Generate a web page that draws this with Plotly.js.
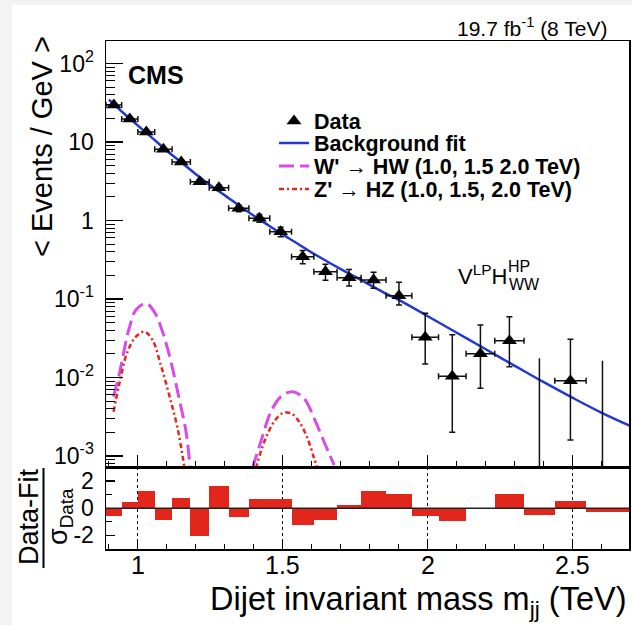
<!DOCTYPE html>
<html><head><meta charset="utf-8">
<script src="https://cdn.plot.ly/plotly-3.0.1.min.js"></script>
<style>html,body{margin:0;padding:0;background:#fff}#chart{width:632px;height:625px}</style>
</head><body><div id="chart"></div>
<script>
// ---------------- data ----------------
const binEdges = [0.890,0.944,1.000,1.058,1.118,1.181,1.246,1.313,1.383,1.455,1.530,1.607,1.687,1.770,1.856,1.945,2.037,2.132,2.231,2.332,2.438,2.546,2.659,2.775];
const dataValue   = [29.6,19.6,13.4,8.07,5.56,3.12,2.62,1.43,1.07,0.72,0.346,0.223,0.187,0.175,0.110,0.0325,0.0104,0.0200,0.0294,null,0.0091,null,null];
const dataErrUp   = [0.75,0.60,0.48,0.37,0.30,0.22,0.20,0.14,0.12,0.10,0.068,0.055,0.050,0.045,0.053,0.0333,0.0246,0.0267,0.0300,null,0.0216,null,null];
const dataErrDown = [0.75,0.60,0.48,0.37,0.30,0.22,0.20,0.14,0.12,0.10,0.065,0.050,0.040,0.038,0.026,0.0176,0.0084,0.0127,0.0157,null,0.0075,null,null];
const emptyBinUpper = [null,null,null,null,null,null,null,null,null,null,null,null,null,null,null,null,null,null,null,0.0176,null,0.0164,null];
const pullValue = [-0.55,0.45,1.24,-0.85,0.77,-2.04,1.62,-0.67,0.67,0.67,-1.22,-0.90,0.25,1.28,1.05,-0.57,-0.94,0.0,1.04,-0.52,0.54,-0.25,-0.25];

const fitMass  = [0.90,0.95,1.00,1.05,1.10,1.15,1.20,1.25,1.30,1.35,1.40,1.45,1.50,1.55,1.60,1.65,1.70,1.75,1.80,1.85,1.90,2.00,2.10,2.20,2.30,2.40,2.50,2.60,2.70];
const fitValue = [34.7,23.4,16.2,11.2,7.76,5.50,3.89,2.82,2.09,1.55,1.15,0.87,0.66,0.51,0.39,0.305,0.240,0.191,0.151,0.120,0.0977,0.0603,0.0372,0.0229,0.0141,0.00871,0.00550,0.00355,0.00240];

const wprimeMass  = [0.916,0.935,0.970,0.993,1.028,1.056,1.085,1.114,1.142,1.166,1.180, null, 1.395,1.424,1.459,1.493,1.533,1.573,1.608,1.642,1.677];
const wprimeValue = [0.00569,0.01076,0.0424,0.0724,0.0881,0.0692,0.0383,0.0159,0.00543,0.00204,0.000708, null, 0.000697,0.00152,0.00366,0.00569,0.00659,0.00543,0.00302,0.00152,0.000767];
const zprimeMass  = [0.916,0.935,0.964,0.993,1.022,1.050,1.079,1.108,1.137,1.160, null, 1.407,1.436,1.470,1.499,1.528,1.556,1.585,1.608,1.619];
const zprimeValue = [0.00366,0.00802,0.0213,0.0331,0.0383,0.0302,0.01445,0.00598,0.00225,0.000731, null, 0.000697,0.00152,0.00274,0.00350,0.00350,0.00274,0.00168,0.000933,0.000697];

const xTickVals = [1, 1.5, 2, 2.5];
const xTickText = ['1', '1.5', '2', '2.5'];
const yTickVals = [0.001, 0.01, 0.1, 1, 10, 100];
const yTickText = ['10<sup>-3</sup>', '10<sup>-2</sup>', '10<sup>-1</sup>', '1', '10', '10<sup>2</sup>'];
const pullTickVals = [-2, 0, 2];
const pullTickText = ['-2', '0', '2'];

// ---------------- derived ----------------
const nBins = binEdges.length - 1;
const centers = [], halfW = [], widths = [];
for (let i = 0; i < nBins; i++) {
  centers.push((binEdges[i] + binEdges[i+1]) / 2);
  halfW.push((binEdges[i+1] - binEdges[i]) / 2);
  widths.push(binEdges[i+1] - binEdges[i]);
}
const dX = [], dY = [], dUp = [], dDn = [], dHW = [];
for (let i = 0; i < nBins; i++) {
  if (dataValue[i] !== null) { dX.push(centers[i]); dY.push(dataValue[i]); dUp.push(dataErrUp[i]); dDn.push(dataErrDown[i]); dHW.push(halfW[i]); }
}
const LOG_FLOOR = 1e-6;
const eX = [], eY = [];
for (let i = 0; i < nBins; i++) {
  if (emptyBinUpper[i] !== null) { eX.push(centers[i], centers[i], null); eY.push(emptyBinUpper[i], LOG_FLOOR, null); }
}

// minor log ticks
const minorLog = [];
for (let k = -4; k <= 2; k++) for (let m = 2; m <= 9; m++) minorLog.push(m * Math.pow(10, k));

// ---------------- geometry helpers ----------------
const L = 106, R = 629, T = 41, B = 549, SPLIT = 467.3;
const px = x => (x - L) / (R - L);
const py = y => (B - y) / (B - T);
const FONT = 'Liberation Sans, Arial, Helvetica, sans-serif';

const traces = [
  { x: wprimeMass, y: wprimeValue, mode: 'lines', name: "<b>W' \u2192 HW (1.0, 1.5 2.0 TeV)</b>", legend: 'legend3',
    line: { color: '#d94ce8', width: 3, dash: '15px,6px', shape: 'spline' }, connectgaps: false, xaxis: 'x', yaxis: 'y', hoverinfo: 'skip' },
  { x: zprimeMass, y: zprimeValue, mode: 'lines', name: "<b>Z' \u2192 HZ (1.0, 1.5, 2.0 TeV)</b>", legend: 'legend4',
    line: { color: '#e3261c', width: 2.5, dash: '5px,3px,2px,3px', shape: 'spline' }, connectgaps: false, xaxis: 'x', yaxis: 'y', hoverinfo: 'skip' },
  { x: fitMass, y: fitValue, mode: 'lines', name: '<b>Background fit</b>', legend: 'legend2',
    line: { color: '#2238d0', width: 2.5, shape: 'spline' }, xaxis: 'x', yaxis: 'y', hoverinfo: 'skip' },
  { x: eX, y: eY, mode: 'lines', showlegend: false, line: { color: '#111', width: 1.5 }, xaxis: 'x', yaxis: 'y', hoverinfo: 'skip' },
  { x: dX, y: dY, mode: 'markers', name: '<b>Data</b>', legend: 'legend',
    marker: { symbol: 'triangle-up', size: 13, color: '#000' },
    error_y: { type: 'data', symmetric: false, array: dUp, arrayminus: dDn, color: '#111', thickness: 1.5, width: 3 },
    error_x: { type: 'data', array: dHW, color: '#111', thickness: 1.5, width: 3 },
    xaxis: 'x', yaxis: 'y', hoverinfo: 'skip' },
  { x: centers, y: pullValue, width: widths, type: 'bar', base: 0, showlegend: false,
    marker: { color: '#e3261c', line: { width: 0 } }, xaxis: 'x2', yaxis: 'y2', hoverinfo: 'skip' }
];

const legendBase = (yc) => ({ x: px(274), y: py(yc), xanchor: 'left', yanchor: 'middle', bgcolor: 'rgba(0,0,0,0)',
  font: { family: FONT, size: 21.5, color: '#000' }, itemwidth: 30, borderwidth: 0 });

const axisCommon = { showline: true, linecolor: '#000', linewidth: 1.5, mirror: true, ticks: 'inside', tickcolor: '#000',
  tickfont: { family: FONT, size: 23, color: '#000' }, zeroline: false, showgrid: false };

const annFont = (size) => ({ family: FONT, size: size, color: '#000' });

const annotations = [
  { text: '19.7 fb<sup>-1</sup> (8 TeV)', xref: 'paper', yref: 'paper', x: px(609), y: py(27), xanchor: 'right', yanchor: 'middle', showarrow: false, font: annFont(21) },
  { text: '<b>CMS</b>', xref: 'paper', yref: 'paper', x: px(126), y: py(75), xanchor: 'left', yanchor: 'middle', showarrow: false, font: annFont(25) },
  { text: '&lt; Events / GeV &gt;', xref: 'paper', yref: 'paper', x: px(42), y: py(147), xanchor: 'center', yanchor: 'middle', textangle: -90, showarrow: false, font: annFont(29) },
  { text: 'Dijet invariant mass m<sub>jj</sub> (TeV)', xref: 'paper', yref: 'paper', x: px(628), y: py(601), xanchor: 'right', yanchor: 'middle', showarrow: false, font: annFont(32.5) },
  { text: 'Data-Fit', xref: 'paper', yref: 'paper', x: px(29), y: py(517), xanchor: 'center', yanchor: 'middle', textangle: -90, showarrow: false, font: annFont(27) },
  { text: '\u03c3<sub>Data</sub>', xref: 'paper', yref: 'paper', x: px(60), y: py(517), xanchor: 'center', yanchor: 'middle', textangle: -90, showarrow: false, font: annFont(27) },
  { text: 'V<sup>LP</sup>H', xref: 'paper', yref: 'paper', x: px(456), y: py(275), xanchor: 'left', yanchor: 'middle', showarrow: false, font: annFont(22) },
  { text: 'HP', xref: 'paper', yref: 'paper', x: px(506), y: py(266), xanchor: 'left', yanchor: 'middle', showarrow: false, font: annFont(16) },
  { text: 'WW', xref: 'paper', yref: 'paper', x: px(507), y: py(284), xanchor: 'left', yanchor: 'middle', showarrow: false, font: annFont(16) }
];
// x tick labels of the ratio panel, placed at the axis values
xTickVals.forEach((v, i) => annotations.push({ text: xTickText[i], xref: 'x2', yref: 'paper', x: v, y: py(565),
  xanchor: 'center', yanchor: 'middle', showarrow: false, font: annFont(25) }));

const layout = {
  width: 632, height: 625,
  margin: { l: L, r: 632 - R, t: T, b: 625 - B },
  paper_bgcolor: '#fff', plot_bgcolor: '#fff',
  showlegend: true,
  bargap: 0,
  legend: legendBase(121),
  legend2: legendBase(143),
  legend3: legendBase(166),
  legend4: legendBase(189),
  xaxis: Object.assign({}, axisCommon, { domain: [0, 1], anchor: 'y', range: [0.89, 2.694], showticklabels: false,
    tickmode: 'array', tickvals: xTickVals, ticklen: 12, tickwidth: 1.2,
    minor: { tickmode: 'linear', tick0: 0.9, dtick: 0.1, ticks: 'inside', ticklen: 6, tickcolor: '#000', tickwidth: 1 } }),
  xaxis2: Object.assign({}, axisCommon, { domain: [0, 1], anchor: 'y2', matches: 'x', range: [0.89, 2.694],
    tickmode: 'array', tickvals: xTickVals, ticktext: xTickText, showticklabels: false, ticklen: 10, tickwidth: 1.2,
    showgrid: true, gridcolor: '#000', griddash: 'dot', gridwidth: 1,
    minor: { tickmode: 'linear', tick0: 0.9, dtick: 0.1, ticks: 'inside', ticklen: 5, tickcolor: '#000', tickwidth: 1 } }),
  yaxis: Object.assign({}, axisCommon, { domain: [(B - SPLIT) / (B - T), 1], anchor: 'x', type: 'log', range: [-3.144, 2.287],
    tickmode: 'array', tickvals: yTickVals, ticktext: yTickText, ticklen: 17, tickwidth: 1.2, ticklabelstandoff: 6,
    minor: { tickmode: 'array', tickvals: minorLog, ticks: 'inside', ticklen: 9, tickcolor: '#000', tickwidth: 1 } }),
  yaxis2: Object.assign({}, axisCommon, { domain: [0, (B - SPLIT) / (B - T)], anchor: 'x2', range: [-3, 3],
    tickmode: 'array', tickvals: pullTickVals, ticktext: pullTickText, ticklen: 9, tickwidth: 1.2, ticklabelstandoff: 6,
    minor: { tickmode: 'array', tickvals: [-1, 1], ticks: 'inside', ticklen: 6, tickcolor: '#000', tickwidth: 1 } }),
  shapes: [
    { type: 'rect', xref: 'paper', yref: 'paper', x0: px(0), x1: px(12), y0: py(625), y1: py(0), fillcolor: '#f3f3f3', line: { width: 0 }, layer: 'below' },
    { type: 'rect', xref: 'paper', yref: 'paper', x0: px(0), x1: px(632), y0: py(5), y1: py(0), fillcolor: '#f3f3f3', line: { width: 0 }, layer: 'below' },
    { type: 'line', xref: 'x2', yref: 'y2', x0: 0.89, x1: 2.694, y0: 0, y1: 0, line: { color: '#222', width: 1.5 }, layer: 'above' },
    { type: 'line', xref: 'paper', yref: 'paper', x0: px(43.5), x1: px(43.5), y0: py(468), y1: py(568), line: { color: '#000', width: 2 } }
  ],
  annotations: annotations
};

Plotly.newPlot('chart', traces, layout, { displayModeBar: false, staticPlot: true });
</script>
</body></html>
